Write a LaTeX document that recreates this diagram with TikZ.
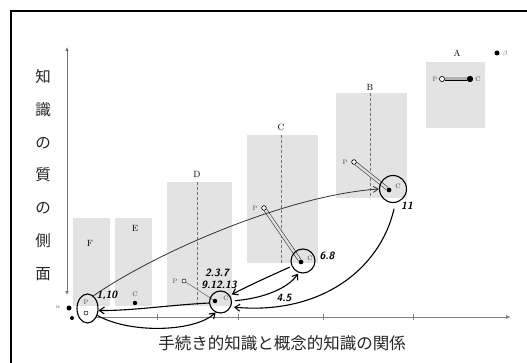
\documentclass[tikz,border=0pt]{standalone}
\usepackage{fontspec}
\newfontfamily\jp{Noto Sans CJK JP}
\usetikzlibrary{arrows.meta,shapes.geometric}
\begin{document}
\begin{tikzpicture}[x=1pt,y=-1pt,
  box/.style={fill=black!11},
  midline/.style={densely dashed, black!55, line width=0.5pt},
  letter/.style={font=\fontsize{9}{9}\selectfont, inner sep=0pt},
  small/.style={font=\fontsize{6.5}{6.5}\selectfont, inner sep=0pt, text=black!75},
  hand/.style={font=\fontsize{10.5}{10.5}\selectfont\sffamily\bfseries\itshape, inner sep=0pt},
  harrow/.style={-{Straight Barb[length=5pt,width=7pt]}, line width=1.1pt},
  thinarrow/.style={-{Straight Barb[length=5pt,width=6pt]}, line width=0.8pt, black!80},
  ring/.style={circle, draw, line width=1.1pt, inner sep=0pt},
  bar/.style={double=black!12, double distance=2.4pt, line width=0.6pt, black!80},
  opendot/.style={circle, draw, fill=white, inner sep=0pt, minimum size=4.5pt, line width=0.5pt},
  fulldot/.style={circle, fill, inner sep=0pt, minimum size=4.5pt},
  axis/.style={black!50, line width=1pt}
]
\useasboundingbox (0,0) rectangle (527,363);
% frame
\draw[line width=1.6pt] (527,11) -- (11,11) -- (11,363);

% shaded boxes
\fill[box] (73,218) rectangle (110,306);
\fill[box] (115,218) rectangle (152,306);
\fill[box] (167,182) rectangle (232,306);
\fill[box] (247,135) rectangle (318,263);
\fill[box] (336,93) rectangle (407,198);
\fill[box] (426,62) rectangle (485,128);
\draw[midline] (197,182) -- (197,306);
\draw[midline] (281,135) -- (281,263);
\draw[midline] (370,93) -- (370,198);

% box letters
\node[letter] (lF) at (90,243) {F};
\node[letter] (lE) at (135,228) {E};
\node[letter] (lD) at (197,174) {D};
\node[letter] (lC) at (281,127) {C};
\node[letter] (lB) at (370,87) {B};
\node[letter] (lA) at (457,53) {A};

% axes
\coordinate (yt) at (67,47);
\coordinate (yb) at (67,295);
\draw[black!55, line width=0.7pt, {Latex[length=4pt,width=3.5pt]}-{Latex[length=4pt,width=3.5pt]}] (yt) -- (yb);
\coordinate (xs) at (96,317);
\coordinate (xe) at (511,317);
\draw[axis, -{Latex[length=5pt,width=4pt]}] (xs) -- (xe);
\foreach \t in {157,238,323,413} \draw[black!50, line width=0.6pt] (\t,314) -- (\t,320);

% axis labels
\node[font=\jp\fontsize{15.5}{32.8}\selectfont, align=center, inner sep=0pt, text=black!85] (ylab) at (43,175) {知\\識\\の\\質\\の\\側\\面};
\node[font=\jp\fontsize{16.5}{16.5}\selectfont, inner sep=0pt, text=black!85] (xlab) at (282,343) {手続き的知識と概念的知識の関係};

% alpha / beta
\node[font=\fontsize{6}{6}\selectfont, text=black!60, inner sep=0pt] (alpha) at (58,307) {$\alpha$};
\node[fulldot, minimum size=5pt] (adot) at (69,308) {};
\node[fulldot, minimum size=4pt] (adot2) at (72,318) {};
\node[fulldot, minimum size=5pt] (bdot) at (497,53) {};
\node[font=\fontsize{7}{7}\selectfont, text=black!55, inner sep=0pt] (beta) at (505,54) {$\beta$};

% A
\node[opendot, minimum size=5pt] (aP) at (442,79) {};
\node[fulldot, minimum size=6pt] (aC) at (470,79) {};
\draw[double=black!30, double distance=3pt, line width=0.9pt] (aP.east) -- (aC.west);
\node[opendot, minimum size=5pt] at (442,79) {};
\node[fulldot, minimum size=6pt] at (470,79) {};
\node[small] (aPl) at (435,79) {P};
\node[small] (aCl) at (478,79) {C};

% B
\node[opendot] (bP) at (354,162) {};
\node[fulldot] (bCd) at (389,190) {};
\draw[bar] (bP) -- (bCd);
\node[opendot] at (354,162) {};
\node[fulldot] at (389,190) {};
\node[small] (bPl) at (345,162) {P};
\node[small] (bCl) at (398,186) {C};
\node[ring, minimum size=27pt] (bc) at (393,189) {};

% C
\node[opendot] (cP) at (264,208) {};
\node[fulldot] (cCd) at (301,262) {};
\draw[bar] (cP) -- (cCd);
\node[opendot] at (264,208) {};
\node[fulldot] at (301,262) {};
\node[small] (cPl) at (255,208) {P};
\node[small] (cCl) at (310,258) {C};
\node[ring, minimum size=24pt] (cc) at (303,261) {};

% D
\node[opendot, minimum size=4pt] (dP) at (184,281) {};
\node[fulldot] (dCd) at (215,301) {};
\draw[black!60, line width=0.5pt] (dP) -- (dCd);
\node[small] (dPl) at (175,281) {P};
\node[small] (dCl) at (226,298) {C};
\node[ring, minimum size=22pt] (dc) at (220.5,302) {};

% E
\node[small] (eCl) at (135,294) {C};
\node[fulldot] (eCd) at (135,303) {};

% F / origin ellipse
\node[ellipse, draw, line width=1.1pt, minimum width=21pt, minimum height=29pt, inner sep=0pt] (pc) at (87.5,308.5) {};
\node[small] (pPl) at (86,302) {P};
\node[opendot, minimum size=4pt] (pP) at (86,313) {};

% handwritten labels
\node[hand] (n110) at (107,295) {1,10};
\node[hand] (n237) at (217,273) {2.3.7};
\node[hand] (n91213) at (219,285) {9.12.13};
\node[hand] (n68) at (327,256) {6.8};
\node[hand] (n45) at (284,298) {4.5};
\node[hand] (n11) at (407,206) {11};

% connectors
\draw[thinarrow] (pc.65) .. controls (160,250) and (290,195) .. (bc.180);
\draw[harrow] (dc.185) .. controls (170,305) and (130,311) .. (pc.-10);
\draw[harrow] (pc.-35) .. controls (130,334) and (195,332) .. (dc.-115);
\draw[harrow, shorten <=2pt, shorten >=2pt] (cc.205) .. controls (270,276) and (250,285) .. (dc.35);
\draw[harrow, shorten <=3pt, shorten >=1pt] (dc.5) .. controls (265,298) and (288,288) .. (cc.-110);
\draw[harrow, shorten <=6pt, shorten >=3pt] (bc.-80) .. controls (380,270) and (320,315) .. (dc.-25);
\end{tikzpicture}
\end{document}
